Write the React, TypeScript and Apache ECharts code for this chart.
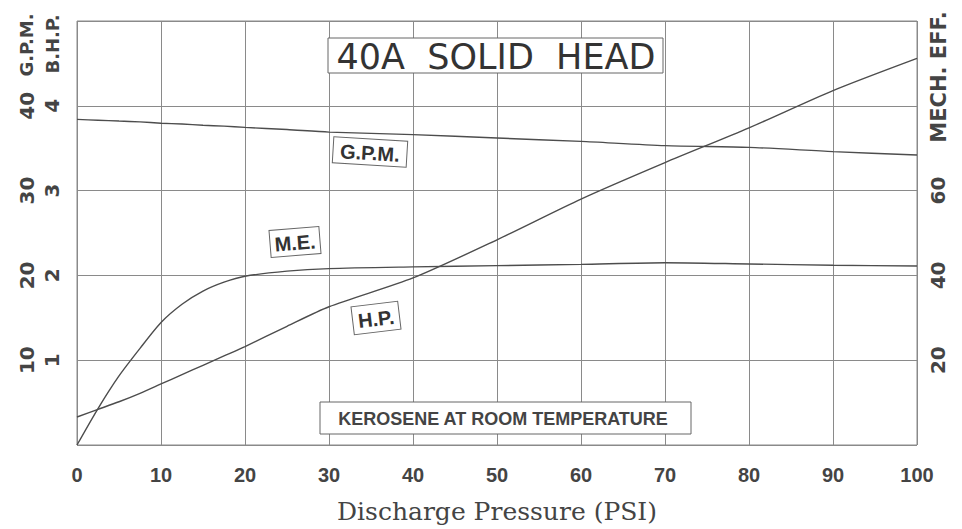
import React, { useEffect, useRef } from "react";
import * as echarts from "echarts";

const PSI = [0, 2.5, 5, 7.5, 10, 12.5, 15, 17.5, 20, 25, 30, 40, 50, 60, 70, 80, 90, 100];
const GPM = [38.4, 38.3, 38.2, 38.1, 37.95, 37.85, 37.7, 37.6, 37.45, 37.2, 36.9, 36.6, 36.2, 35.8, 35.3, 35.1, 34.6, 34.2];
const BHP = [0.33, 0.42, 0.51, 0.61, 0.72, 0.83, 0.94, 1.05, 1.16, 1.4, 1.63, 1.97, 2.42, 2.9, 3.33, 3.74, 4.18, 4.56];
const MECH_EFF = [0, 8.6, 16.3, 22.8, 28.9, 33.2, 36.3, 38.4, 39.8, 41.0, 41.6, 42.0, 42.3, 42.6, 43.0, 42.7, 42.4, 42.2];

const GPM_TICKS = [10, 20, 30, 40];
const BHP_TICKS = [1, 2, 3, 4];
const ME_TICKS = [20, 40, 60];

const TITLE = "40A  SOLID  HEAD";
const NOTE = "KEROSENE AT ROOM TEMPERATURE";
const X_NAME = "Discharge Pressure (PSI)";

const INK = "#444";
const GRID = "#8a8a8a";
const LINE = "#4d4d4d";

function boxLabel(text: string, cx: number, cy: number, w: number, h: number, rot: number) {
  return {
    type: "group",
    x: cx,
    y: cy,
    rotation: rot,
    z: 100,
    children: [
      {
        type: "rect",
        shape: { x: -w / 2, y: -h / 2, width: w, height: h },
        style: { fill: "#fff", stroke: "#666", lineWidth: 1 },
        z: 100,
      },
      {
        type: "text",
        x: 0,
        y: 1,
        z: 101,
        style: {
          text,
          fill: "#333",
          font: "bold 20px 'Liberation Sans', Arial, sans-serif",
          align: "center",
          verticalAlign: "middle",
        },
      },
    ],
  };
}

function vText(text: string, x: number, y: number, size: number) {
  return {
    type: "text",
    z: 101,
    x,
    y,
    rotation: Math.PI / 2,
    style: {
      text,
      fill: INK,
      font: `bold ${size}px 'DejaVu Sans', sans-serif`,
      align: "center",
      verticalAlign: "middle",
    },
  };
}

export default function App() {
  const ref = useRef<HTMLDivElement>(null);
  useEffect(() => {
    if (!ref.current) return;
    const chart = echarts.init(ref.current, null, { renderer: "svg" });
    const vLabel = {
      rotate: 90,
      color: INK,
      fontFamily: "'DejaVu Sans', sans-serif",
      fontWeight: "bold" as const,
      fontSize: 20,
    };
    chart.setOption({
      animation: false,
      backgroundColor: "#fff",
      grid: {
        left: 77,
        right: 45,
        top: 21,
        bottom: 80.5,
        show: true,
        borderColor: GRID,
        borderWidth: 1,
      },
      xAxis: {
        type: "value",
        min: 0,
        max: 100,
        interval: 10,
        axisLine: { show: false },
        axisTick: { show: false },
        splitLine: { show: true, lineStyle: { color: GRID, width: 1 } },
        axisLabel: {
          margin: 20,
          color: INK,
          fontFamily: "'Liberation Sans', Arial, sans-serif",
          fontWeight: "bold",
          fontSize: 20,
        },
        name: X_NAME,
        nameLocation: "middle",
        nameGap: 54,
        nameTextStyle: {
          color: INK,
          fontFamily: "'DejaVu Serif', serif",
          fontSize: 25,
        },
      },
      yAxis: [
        {
          type: "value",
          position: "left",
          min: 0,
          max: 50,
          interval: 10,
          axisLine: { show: false },
          axisTick: { show: false },
          splitLine: { show: true, lineStyle: { color: GRID, width: 1 } },
          axisLabel: {
            ...vLabel,
            margin: 40,
            formatter: (v: number) => (GPM_TICKS.includes(v) ? String(v) : ""),
          },
        },
        {
          type: "value",
          position: "left",
          min: 0,
          max: 5,
          interval: 1,
          axisLine: { show: false },
          axisTick: { show: false },
          splitLine: { show: false },
          axisLabel: {
            ...vLabel,
            margin: 15,
            formatter: (v: number) => (BHP_TICKS.includes(v) ? String(v) : ""),
          },
        },
        {
          type: "value",
          position: "right",
          min: 0,
          max: 100,
          interval: 20,
          axisLine: { show: false },
          axisTick: { show: false },
          splitLine: { show: false },
          axisLabel: {
            ...vLabel,
            margin: 11,
            formatter: (v: number) => (ME_TICKS.includes(v) ? String(v) : ""),
          },
        },
      ],
      series: [
        {
          name: "G.P.M.",
          type: "line",
          yAxisIndex: 0,
          showSymbol: false,
          smooth: 0.25,
          lineStyle: { color: LINE, width: 1.4 },
          data: PSI.map((p, i) => [p, GPM[i]]),
        },
        {
          name: "H.P.",
          type: "line",
          yAxisIndex: 1,
          showSymbol: false,
          smooth: 0.25,
          lineStyle: { color: LINE, width: 1.4 },
          data: PSI.map((p, i) => [p, BHP[i]]),
        },
        {
          name: "M.E.",
          type: "line",
          yAxisIndex: 2,
          showSymbol: false,
          smooth: 0.25,
          lineStyle: { color: LINE, width: 1.4 },
          data: PSI.map((p, i) => [p, MECH_EFF[i]]),
        },
      ],
      graphic: [
        {
          type: "rect",
          z: 100,
          shape: { x: 328, y: 38, width: 335, height: 35 },
          style: { fill: "#fff", stroke: "#666", lineWidth: 1 },
        },
        {
          type: "text",
          z: 101,
          x: 496,
          y: 57,
          style: {
            text: TITLE,
            fill: "#333",
            font: "35px 'DejaVu Sans', sans-serif",
            align: "center",
            verticalAlign: "middle",
          },
        },
        boxLabel("G.P.M.", 370, 152, 74, 26, -0.06),
        boxLabel("M.E.", 295, 242, 50, 27, 0.08),
        boxLabel("H.P.", 376, 318, 47, 28, 0.12),
        {
          type: "rect",
          z: 100,
          shape: { x: 320, y: 402, width: 371, height: 32 },
          style: { fill: "#fff", stroke: "#666", lineWidth: 1 },
        },
        {
          type: "text",
          z: 101,
          x: 503,
          y: 419,
          style: {
            text: NOTE,
            fill: INK,
            font: "bold 18px 'Liberation Sans', Arial, sans-serif",
            align: "center",
            verticalAlign: "middle",
          },
        },
        vText("G.P.M.", 26, 45, 18),
        vText("B.H.P.", 52, 44, 18),
        vText("MECH. EFF.", 939, 77, 21),
      ],
    });
    return () => chart.dispose();
  }, []);
  return (
    <div
      ref={ref}
      style={{ position: "fixed", left: 0, top: 0, width: 962, height: 529 }}
    />
  );
}
